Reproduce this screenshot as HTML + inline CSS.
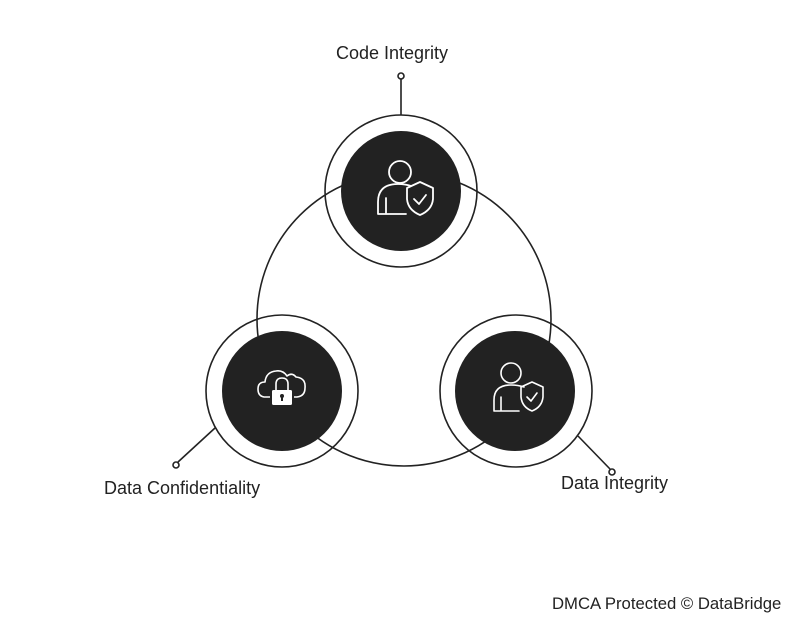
<!DOCTYPE html>
<html><head><meta charset="utf-8"><style>
html,body{margin:0;padding:0;background:#fff;}
svg{display:block;}
text{font-family:"Liberation Sans",sans-serif;fill:#222;}
</style></head><body>
<svg width="800" height="621" viewBox="0 0 800 621" xmlns="http://www.w3.org/2000/svg">
<g fill="none" stroke="#222" stroke-width="1.6">
<circle cx="404" cy="319" r="147"/>
<circle cx="401" cy="191" r="76"/>
<circle cx="282" cy="391" r="76"/>
<circle cx="516" cy="391" r="76"/>
<line x1="401" y1="79" x2="401" y2="115"/>
<circle cx="401" cy="76" r="3"/>
<line x1="215" y1="428" x2="178" y2="462"/>
<circle cx="176" cy="465" r="3"/>
<line x1="578" y1="436" x2="610" y2="469"/>
<circle cx="612" cy="472" r="3"/>
</g>
<g fill="#222">
<circle cx="401" cy="191" r="60"/>
<circle cx="282" cy="391" r="60"/>
<circle cx="515" cy="391" r="60"/>
</g>
<g fill="none" stroke="#fff" stroke-width="1.8" stroke-linejoin="round" stroke-linecap="round">
<circle cx="400" cy="172" r="11"/>
<path d="M411 186 Q405 184 398 184 Q378 184 378 202 L378 214 L406 214"/>
<path d="M386 198 L386 213"/>
<path d="M420 182 L433 188 L433 199 Q432 210 420 215 Q408 210 407 199 L407 188 Z"/>
<path d="M414 199 L419 204 L426 195"/>
</g>
<g fill="none" stroke="#fff" stroke-width="1.6" stroke-linejoin="round" stroke-linecap="round">
<circle cx="511" cy="373" r="10"/>
<path d="M524 387 Q518 385 511 385 Q494 385 494 400 L494 411 L519 411"/>
<path d="M501 397 L501 410"/>
<path d="M532 382 L543 387 L543 397 Q542 407 532 411 Q522 407 521 397 L521 387 Z"/>
<path d="M527 397 L531 401 L537 393"/>
</g>
<g fill="none" stroke="#fff" stroke-width="1.6" stroke-linejoin="round">
<path d="M270 397 L264 397 Q258 396 258 389 Q258 382 265 382 Q266 372 276 371 Q283 370 287 376 Q292 372 296 377 Q306 378 305 388 Q305 396 297 397 L294 397"/>
<path d="M276 390 L276 384 Q276 378 282 378 Q288 378 288 384 L288 390"/>
</g>
<rect x="272" y="390" width="20" height="15" rx="1.5" fill="#fff"/>
<circle cx="282" cy="396" r="2" fill="#222"/>
<rect x="281" y="396" width="2" height="5" fill="#222"/>
<text x="392" y="59" font-size="18" text-anchor="middle">Code Integrity</text>
<text x="104" y="494" font-size="18">Data Confidentiality</text>
<text x="561" y="489" font-size="18">Data Integrity</text>
<text x="552" y="609" font-size="16.7" fill="#333">DMCA Protected © DataBridge</text>
</svg>
</body></html>
